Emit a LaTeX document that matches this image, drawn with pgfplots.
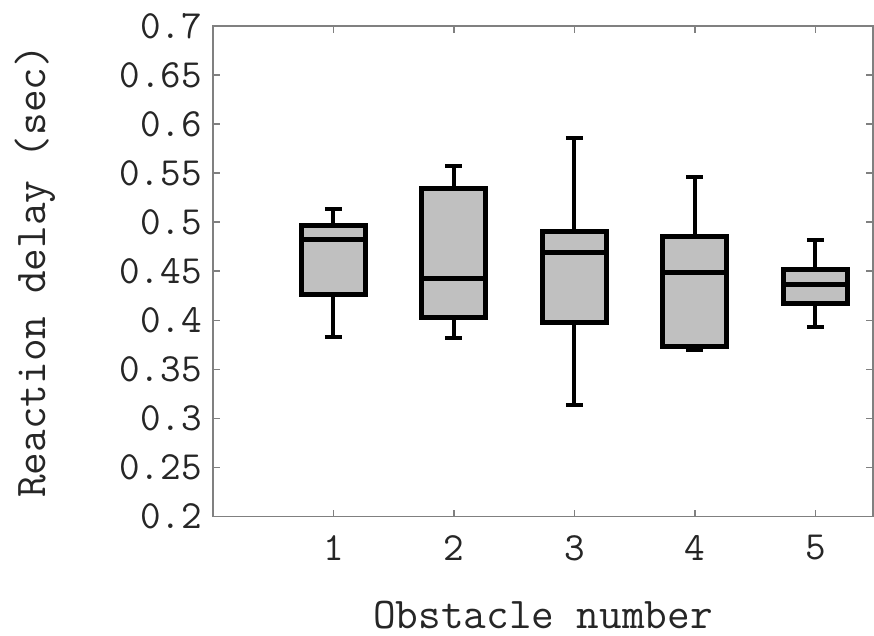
\documentclass[border=0pt]{standalone}
\usepackage{fontspec}
\usepackage{pgfplots}
\pgfplotsset{compat=1.18}
\usepgfplotslibrary{statistics}
\definecolor{boxgray}{RGB}{192,192,192}
\definecolor{axgray}{RGB}{128,128,128}

\begin{document}
\begin{tikzpicture}
\begin{axis}[
  width=330.5pt, height=245.5pt, scale only axis,
  xmin=0, xmax=5.48, ymin=0.2, ymax=0.7,
  xtick={1,2,3,4,5},
  ytick={0.2,0.25,0.3,0.35,0.4,0.45,0.5,0.55,0.6,0.65,0.7},
  tick align=inside, major tick length=3.5pt,
  axis line style={axgray, line width=0.8pt},
  tick style={axgray, line width=0.8pt},
  /pgf/number format/assume math mode=true,
  ticklabel style={font=\ttfamily\fontsize{20}{20}\selectfont, text=black!85},
  yticklabel style={xshift=-2pt},
  xticklabel style={yshift=-6pt},
  label style={font=\ttfamily\fontsize{22}{22}\selectfont, text=black!85},
  xlabel={Obstacle number},
  ylabel={Reaction delay (sec)},
  xlabel style={at={(axis description cs:0.5,-0.2)}, anchor=center},
  ylabel style={at={(axis description cs:-0.269,0.5)}, anchor=center, rotate=0},
  boxplot/draw direction=y,
  boxplot/box extend=0.53,
  boxplot/whisker extend=0.14,
  boxplot/every box/.append style={draw=black, line width=2.5pt, fill=boxgray},
  boxplot/every median/.append style={draw=black, line width=2.5pt},
  boxplot/every whisker/.append style={draw=black, line width=2pt},
]
\addplot+[black, boxplot prepared={draw position=1, lower whisker=0.383, lower quartile=0.426,
  median=0.482, upper quartile=0.497, upper whisker=0.513}] coordinates {};
\addplot+[black, boxplot prepared={draw position=2, lower whisker=0.382, lower quartile=0.403,
  median=0.443, upper quartile=0.534, upper whisker=0.557}] coordinates {};
\addplot+[black, boxplot prepared={draw position=3, lower whisker=0.314, lower quartile=0.398,
  median=0.469, upper quartile=0.491, upper whisker=0.586}] coordinates {};
\addplot+[black, boxplot prepared={draw position=4, lower whisker=0.370, lower quartile=0.373,
  median=0.449, upper quartile=0.485, upper whisker=0.546}] coordinates {};
\addplot+[black, boxplot prepared={draw position=5, lower whisker=0.393, lower quartile=0.417,
  median=0.436, upper quartile=0.452, upper whisker=0.482}] coordinates {};
\end{axis}
% fix the page to the reference frame (right edge cuts the axis box)
\path[use as bounding box] (-106.5pt,-59pt) rectangle (330.5pt,258.5pt);
\end{tikzpicture}
\end{document}
